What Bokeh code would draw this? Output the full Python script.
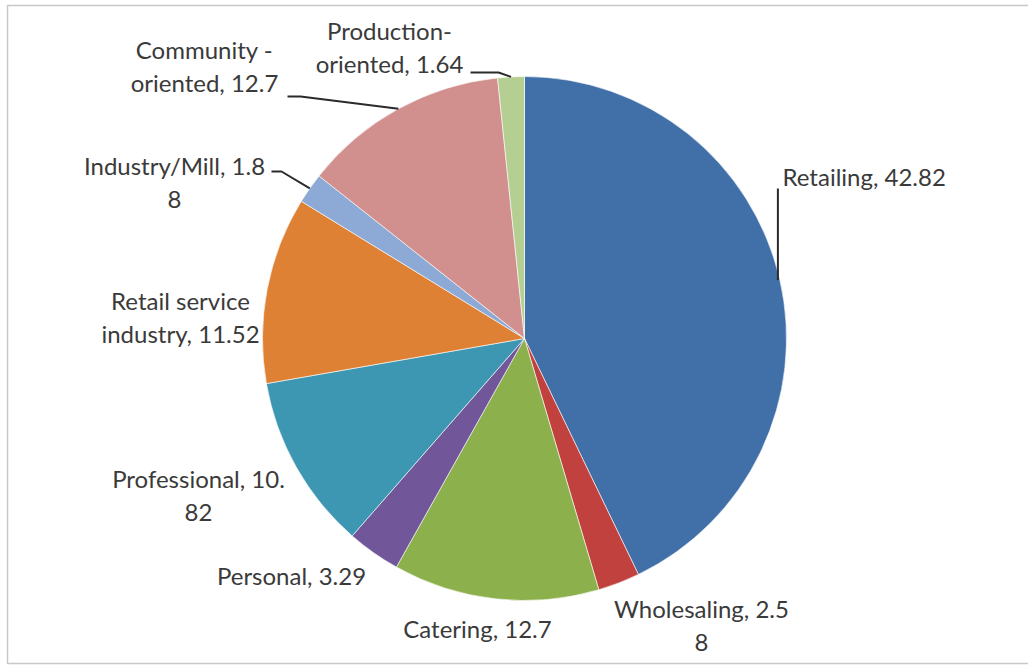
import math
from bokeh.plotting import figure
from bokeh.models import Range1d, ColumnDataSource
from bokeh.core.properties import value
from bokeh.embed import file_html
from bokeh.resources import INLINE

W, H = 1028, 668

# ---- data (clockwise from 12 o'clock) ----
categories = ["Retailing", "Wholesaling", "Catering", "Personal", "Professional",
              "Retail service industry", "Industry/Mill", "Community-oriented",
              "Production-oriented"]
values = [42.82, 2.58, 12.7, 3.29, 10.82, 11.52, 1.88, 12.7, 1.64]
labels = ["Retailing, 42.82", "Wholesaling, 2.5\n8", "Catering, 12.7", "Personal, 3.29",
          "Professional, 10.\n82", "Retail service\nindustry, 11.52", "Industry/Mill, 1.8\n8",
          "Community -\noriented, 12.7", "Production-\noriented, 1.64"]
colors = ["#4170A8", "#C0413D", "#8CB04C", "#71569A", "#3D96B2",
          "#DE8134", "#8DA9D6", "#D18F8E", "#B5CF92"]

# ---- layout (pixels, y measured from top of the page) ----
CX, CY, R = 524, 338, 262
label_pos = [  # (x, cap-top y, align)
    (782, 168, "left"),
    (701, 600, "center"),
    (477, 620, "center"),
    (291, 567, "center"),
    (198, 470, "center"),
    (180, 292, "center"),
    (174, 157, "center"),
    (204, 41, "center"),
    (389, 22, "center"),
]
CAP_OFF = 7


def Y(py):
    return H - py


p = figure(width=W, height=H, output_backend="svg", toolbar_location=None,
           x_range=Range1d(0, W), y_range=Range1d(0, H), min_border=0)
p.axis.visible = False
p.grid.visible = False
p.outline_line_color = None
p.background_fill_color = "white"
p.border_fill_color = "white"

# frame
p.quad(left=[7], right=[W + 10], top=[Y(5)], bottom=[Y(663)], fill_color=None,
       line_color="#c8c8c8", line_width=1.5)

total = sum(values)
starts, ends, mids = [], [], []
cum = 0.0
for v in values:
    a0 = math.pi / 2 - 2 * math.pi * cum / total
    cum += v
    a1 = math.pi / 2 - 2 * math.pi * cum / total
    starts.append(a0)
    ends.append(a1)
    mids.append((a0 + a1) / 2)

src = ColumnDataSource(dict(start=starts, end=ends, color=colors, cat=categories))
p.wedge(x=CX, y=Y(CY), radius=R, start_angle="start", end_angle="end",
        direction="clock", fill_color="color", line_color="white", line_width=0.6,
        source=src)

# leader lines
def edge_point(i):
    a = mids[i]
    return CX + R * math.cos(a), Y(CY) + R * math.sin(a)

LC = "#2b2b2b"
# Retailing: vertical line from label down to slice
ex, ey = edge_point(0)
p.line([ex - 2, ex - 2], [ey, Y(188)], line_color=LC, line_width=2)
# Industry/Mill
ex, ey = edge_point(6)
p.line([271, 281, ex], [Y(171), Y(171), ey], line_color=LC, line_width=2)
# Community-oriented
ex, ey = edge_point(7)
p.line([287, 300, ex], [Y(96), Y(96), ey], line_color=LC, line_width=2)
# Production-oriented
ex, ey = edge_point(8)
p.line([470, 498, ex], [Y(72), Y(72), ey], line_color=LC, line_width=2)

for align in ("left", "center"):
    idx = [i for i, lp in enumerate(label_pos) if lp[2] == align]
    p.text(x=[label_pos[i][0] for i in idx],
           y=[Y(label_pos[i][1] - CAP_OFF) for i in idx],
           text=[labels[i] for i in idx],
           text_align=align, text_baseline="top",
           text_font=value("Lato"), text_font_size="24px",
           text_line_height=1.16, text_color="#3a3a3a")

open("out.html", "w").write(file_html(p, INLINE))
